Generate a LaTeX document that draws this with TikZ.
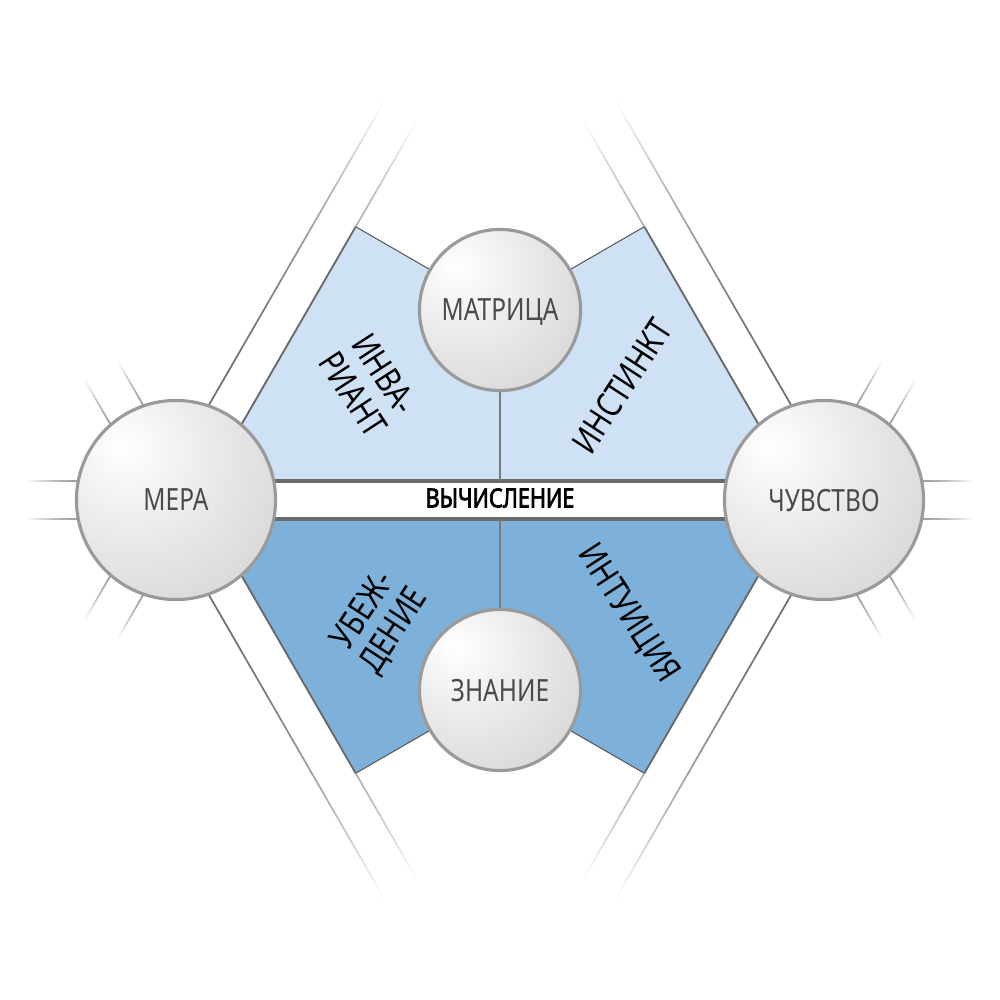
\documentclass[tikz,border=0pt]{standalone}
\usepackage{fontspec}
\setmainfont{Noto Sans}[FakeStretch=0.8]
\newfontfamily\bandfamily{Noto Sans}[FakeStretch=0.82, FakeBold=2.6]
\usetikzlibrary{calc}
\definecolor{raycol}{HTML}{6E6E6E}
\definecolor{shortcol}{HTML}{9C9C9C}
\definecolor{upfill}{HTML}{CFE2F5}
\definecolor{lowfill}{HTML}{7DB1DA}
\definecolor{edgecol}{HTML}{5A5A5A}
\definecolor{innercol}{HTML}{6A6A6A}
\definecolor{bandcol}{HTML}{6A6A6A}
\definecolor{divcol}{HTML}{7A7A7A}
\definecolor{ballborder}{HTML}{9A9A9A}
\definecolor{balltext}{HTML}{4A4A4A}
\pgfdeclareradialshading{sphere}{\pgfpoint{-14bp}{14bp}}{color(0bp)=(white); color(25bp)=(gray!20); color(55bp)=(gray!42); color(100bp)=(gray!50)}
\newcommand\fadeseg[7]{%
  \foreach \k in {1,...,#6}{%
    \pgfmathsetmacro\sa{(\k-1)/#6}%
    \pgfmathsetmacro\sb{\k/#6}%
    \pgfmathsetmacro\fm{100*(1-((\k-0.5)/#6)^#7)}%
    \draw[#5!\fm!white, line width=0.5pt] ({#1+(#3-#1)*\sa},{#2+(#4-#2)*\sa}) -- ({#1+(#3-#1)*\sb},{#2+(#4-#2)*\sb});
  }}
\tikzset{
  ball/.style={circle, inner sep=0pt, shading=sphere, draw=ballborder, line width=0.9pt, text=balltext, text depth=0pt, font=\fontsize{8.7}{9}\selectfont},
  bigball/.style={ball, minimum size=1.99cm},
  smallball/.style={ball, minimum size=1.61cm},
  polytext/.style={align=center, text=black, font=\fontsize{10}{10.5}\selectfont},
  bandtext/.style={text=black, font=\bandfamily\fontsize{7.5}{9}\selectfont},
  polyedge/.style={edgecol, line width=0.3pt},
  inneredge/.style={innercol, line width=0.5pt},
  bandline/.style={bandcol, line width=1pt},
  divider/.style={divcol, line width=0.35pt}
}
\begin{document}
\begin{tikzpicture}[x=0.01cm, y=-0.01cm]
\useasboundingbox (0,0) rectangle (1000,1000);
% centres
\coordinate (cL) at (176,500);
\coordinate (cR) at (824,500);
\coordinate (cT) at (500,310);
\coordinate (cB) at (500,690);
% long rays
\fadeseg{239.95}{427.23}{416.45}{121.53}{raycol}{40}{2}
\fadeseg{207.05}{408.23}{383.55}{102.53}{raycol}{40}{2}
\fadeseg{239.95}{572.77}{416.45}{878.47}{raycol}{40}{2}
\fadeseg{207.05}{591.77}{383.55}{897.47}{raycol}{40}{2}
\fadeseg{760.05}{427.23}{583.55}{121.53}{raycol}{40}{2}
\fadeseg{792.95}{408.23}{616.45}{102.53}{raycol}{40}{2}
\fadeseg{760.05}{572.77}{583.55}{878.47}{raycol}{40}{2}
\fadeseg{792.95}{591.77}{616.45}{897.47}{raycol}{40}{2}
% short rays
\fadeseg{80}{481}{26}{481}{shortcol}{15}{1.5}
\fadeseg{80}{519}{26}{519}{shortcol}{15}{1.5}
\fadeseg{144.95}{408.23}{117.45}{360.6}{shortcol}{15}{1.5}
\fadeseg{112.05}{427.23}{84.55}{379.6}{shortcol}{15}{1.5}
\fadeseg{144.95}{591.77}{117.45}{639.4}{shortcol}{15}{1.5}
\fadeseg{112.05}{572.77}{84.55}{620.4}{shortcol}{15}{1.5}
\fadeseg{920}{481}{974}{481}{shortcol}{15}{1.5}
\fadeseg{920}{519}{974}{519}{shortcol}{15}{1.5}
\fadeseg{855.05}{408.23}{882.55}{360.6}{shortcol}{15}{1.5}
\fadeseg{887.95}{427.23}{915.45}{379.6}{shortcol}{15}{1.5}
\fadeseg{855.05}{591.77}{882.55}{639.4}{shortcol}{15}{1.5}
\fadeseg{887.95}{572.77}{915.45}{620.4}{shortcol}{15}{1.5}
% polygons
\coordinate (pUL) at (355.7,226.75);
\coordinate (pUR) at (644.3,226.75);
\coordinate (pLL) at (355.7,773.25);
\coordinate (pLR) at (644.3,773.25);
\coordinate (qUL) at (208.9,481);
\coordinate (qUR) at (791.1,481);
\coordinate (qLL) at (208.9,519);
\coordinate (qLR) at (791.1,519);
\fill[upfill] (qUL) -- (pUL) -- (cT) -- (pUR) -- (qUR) -- cycle;
\fill[lowfill] (qLL) -- (pLL) -- (cB) -- (pLR) -- (qLR) -- cycle;
\draw[polyedge] (pUL) -- (cT) -- (pUR);
\draw[polyedge] (pLL) -- (cB) -- (pLR);
\draw[inneredge] (qUL) -- (pUL);
\draw[inneredge] (qUR) -- (pUR);
\draw[inneredge] (qLL) -- (pLL);
\draw[inneredge] (qLR) -- (pLR);
% band
\fill[white] (176,481) rectangle (824,519);
\draw[bandline] (176,481) -- (824,481);
\draw[bandline] (176,519) -- (824,519);
\coordinate (bandT) at (500,481);
\coordinate (bandB) at (500,519);
\draw[divider] (cT) -- (bandT);
\draw[divider] (bandB) -- (cB);
\node[bandtext] (band) at (500,498) {ВЫЧИСЛЕНИЕ};
% texts in areas
\node[polytext, rotate=-57] (inv) at (369,384) {ИНВА-\\РИАНТ};
\node[polytext, rotate=57] (inst) at (622,386) {ИНСТИНКТ};
\node[polytext, rotate=57] (ube) at (379,621) {УБЕЖ-\\ДЕНИЕ};
\node[polytext, rotate=-57] (intu) at (628,614) {ИНТУИЦИЯ};
% spheres
\node[bigball] (mera) at (cL) {МЕРА};
\node[bigball] (chuv) at (cR) {ЧУВСТВО};
\node[smallball] (matr) at (cT) {МАТРИЦА};
\node[smallball] (znan) at (cB) {ЗНАНИЕ};
\end{tikzpicture}
\end{document}
